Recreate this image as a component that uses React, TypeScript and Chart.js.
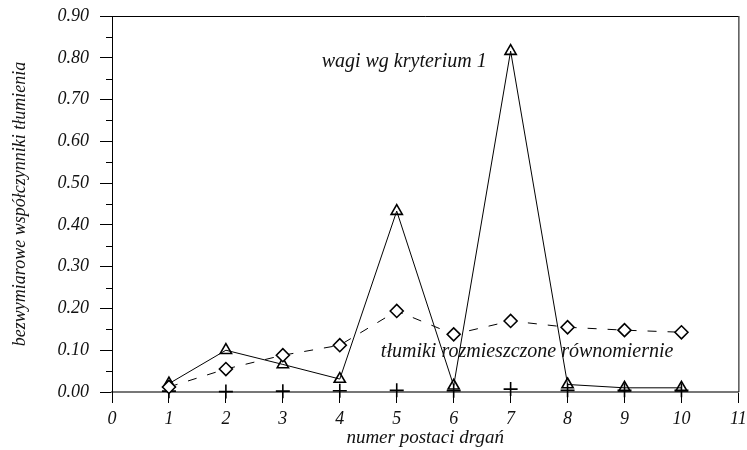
import React, { useEffect, useRef } from "react";
import { Chart, registerables } from "chart.js";

Chart.register(...registerables);

const modes = [1, 2, 3, 4, 5, 6, 7, 8, 9, 10];
const criterionWeights = [0.02, 0.1, 0.066, 0.031, 0.433, 0.015, 0.816, 0.018, 0.01, 0.01];
const uniformDampers = [0.012, 0.055, 0.088, 0.112, 0.194, 0.138, 0.17, 0.155, 0.148, 0.143];
const crossSeries = [0.002, 0.001, 0.002, 0.003, 0.004, 0.003, 0.007, 0.004, 0.004, 0.004];

const xTitle = "numer postaci drgań";
const yTitle = "bezwymiarowe współczynniki tłumienia";
const noteTop = "wagi wg kryterium 1";
const noteBottom = "tłumiki rozmieszczone równomiernie";

const FONT = '"Liberation Serif", "Times New Roman", serif';

export default function App() {
  const ref = useRef<HTMLCanvasElement | null>(null);
  useEffect(() => {
    document.body.style.margin = "0";
    const canvas = ref.current!;
    const toPts = (arr: number[]) => arr.map((v, i) => ({ x: modes[i], y: v }));

    const decor = {
      id: "decor",
      afterDraw(chart: any) {
        const { ctx, chartArea } = chart;
        const xs = chart.scales.x;
        const ys = chart.scales.y;
        ctx.save();
        ctx.strokeStyle = "#000";
        ctx.lineWidth = 1;
        ctx.beginPath();
        ctx.moveTo(chartArea.left, chartArea.top + 0.5);
        ctx.lineTo(chartArea.right, chartArea.top + 0.5);
        ctx.moveTo(chartArea.right + 0.5, chartArea.top);
        ctx.lineTo(chartArea.right + 0.5, chartArea.bottom);
        ctx.stroke();
        ctx.beginPath();
        for (let v = 0.05; v < 0.9; v += 0.1) {
          const py = Math.round(ys.getPixelForValue(v)) + 0.5;
          ctx.moveTo(chartArea.left - 6, py);
          ctx.lineTo(chartArea.left, py);
        }
        ctx.stroke();
        ctx.fillStyle = "#111";
        ctx.textAlign = "center";
        ctx.textBaseline = "middle";
        ctx.font = `italic 19px ${FONT}`;
        ctx.fillText(xTitle, (chartArea.left + chartArea.right) / 2, 438);
        ctx.font = `italic 18px ${FONT}`;
        ctx.save();
        ctx.translate(20, (chartArea.top + chartArea.bottom) / 2);
        ctx.rotate(-Math.PI / 2);
        ctx.fillText(yTitle, 0, 0);
        ctx.restore();
        ctx.font = `italic 20px ${FONT}`;
        ctx.fillText(noteTop, xs.getPixelForValue(5.13), ys.getPixelForValue(0.79));
        ctx.fillText(noteBottom, xs.getPixelForValue(7.29), ys.getPixelForValue(0.096));
        ctx.restore();
      },
    };

    const chart = new Chart(canvas, {
      type: "scatter",
      data: {
        datasets: [
          {
            label: "równomiernie",
            data: toPts(uniformDampers),
            showLine: true,
            borderColor: "#000",
            borderWidth: 1,
            borderDash: [9, 11],
            pointStyle: "rectRot",
            pointRadius: 6.5,
            pointBorderWidth: 1.6,
            pointBackgroundColor: "#fff",
            pointBorderColor: "#000",
            clip: false,
          } as any,
          {
            label: "kryterium 1",
            data: toPts(criterionWeights),
            showLine: true,
            borderColor: "#000",
            borderWidth: 1,
            pointStyle: "triangle",
            pointRadius: 6.5,
            pointBorderWidth: 1.6,
            pointBackgroundColor: "rgba(255,255,255,0)",
            pointBorderColor: "#000",
            clip: false,
          } as any,
          {
            label: "plus",
            data: toPts(crossSeries),
            showLine: false,
            pointStyle: "cross",
            pointRadius: 7,
            pointBorderWidth: 1.6,
            pointBorderColor: "#000",
            clip: false,
          } as any,
        ],
      },
      options: {
        animation: false,
        responsive: false,
        layout: { padding: { top: 16, right: 7, left: 0, bottom: 0 } },
        plugins: { legend: { display: false }, tooltip: { enabled: false } },
        scales: {
          x: {
            type: "linear",
            min: 0,
            max: 11,
            ticks: {
              stepSize: 1,
              color: "#111",
              font: { family: FONT, size: 18, style: "italic" },
              padding: 5,
              maxRotation: 0,
            },
            grid: { drawOnChartArea: false, tickLength: 11, color: "#000", lineWidth: 1 },
            border: { color: "#777", width: 2 },
            afterFit(scale: any) {
              scale.height = 58;
              scale.paddingLeft = 0;
              scale.paddingRight = 0;
            },
          },
          y: {
            min: 0,
            max: 0.9,
            ticks: {
              stepSize: 0.1,
              color: "#111",
              font: { family: FONT, size: 18, style: "italic" },
              padding: 11,
              callback: (v: any) => Number(v).toFixed(2),
            },
            grid: { drawOnChartArea: false, tickLength: 12, color: "#000", lineWidth: 1 },
            border: { color: "#000", width: 1 },
            afterFit(scale: any) {
              scale.width = 112;
              scale.paddingTop = 0;
              scale.paddingBottom = 0;
            },
          },
        },
      },
      plugins: [decor],
    });
    return () => chart.destroy();
  }, []);
  return <canvas ref={ref} width={747} height={450} style={{ display: "block" }} />;
}
